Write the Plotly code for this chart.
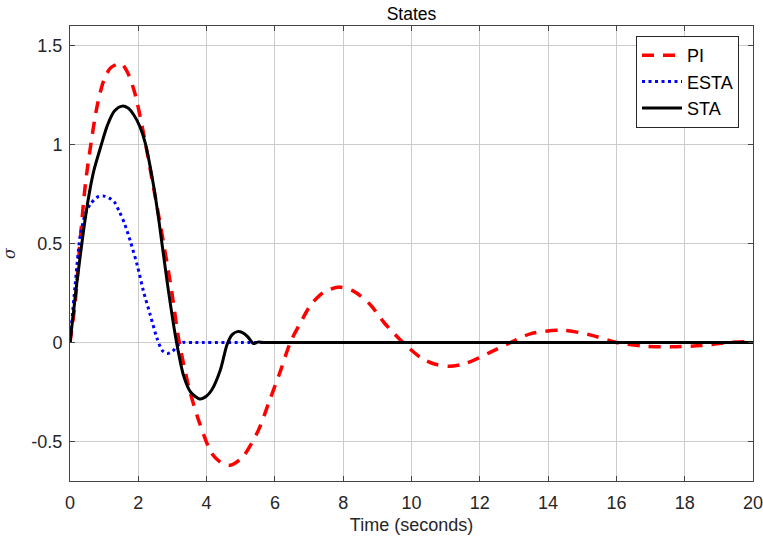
import plotly.graph_objects as go

# ---- data ----
pi_t = [0, 0.15, 0.3, 0.45, 0.6, 0.8, 1.0, 1.2, 1.5, 1.7, 1.9, 2.15, 2.45, 2.65, 2.95, 3.2,
        3.5, 3.8, 4.15, 4.45, 4.7, 5.05, 5.5, 5.85, 6.15, 6.45, 6.75, 7.05, 7.4, 7.85, 8.3,
        8.8, 9.2, 9.75, 10.3, 10.7, 11.1, 11.6, 12.3, 12.9, 13.5, 14.4, 15.2, 16.0, 16.8,
        17.6, 18.5, 19.3, 20]
pi_v = [0, 0.2, 0.52, 0.8, 0.99, 1.2, 1.33, 1.39, 1.41, 1.36, 1.26, 1.06, 0.78, 0.59, 0.29, 0.0,
        -0.24, -0.41, -0.56, -0.61, -0.62, -0.58, -0.45, -0.29, -0.15, 0.0, 0.1, 0.19, 0.25, 0.28, 0.26,
        0.19, 0.1, 0.0, -0.08, -0.11, -0.12, -0.105, -0.05, 0.0, 0.045, 0.062, 0.04, 0.0, -0.018,
        -0.022, -0.015, 0.0, 0.005]

esta_t = [0, 0.15, 0.3, 0.45, 0.6, 0.8, 1.0, 1.15, 1.3, 1.45, 1.6, 1.77, 1.97, 2.15, 2.35, 2.55,
          2.7, 2.85, 3.0, 3.15, 3.3, 3.6, 5, 10, 15, 20]
esta_v = [0, 0.29, 0.54, 0.65, 0.7, 0.735, 0.74, 0.73, 0.71, 0.66, 0.6, 0.51, 0.39, 0.26, 0.14, 0.02,
          -0.04, -0.055, -0.045, -0.015, 0.0, 0.0, 0, 0, 0, 0]

sta_t = [0, 0.2, 0.4, 0.55, 0.7, 0.9, 1.1, 1.3, 1.53, 1.7, 1.87, 2.05, 2.2, 2.45, 2.6, 2.85, 3.1,
         3.33, 3.53, 3.8, 4.0, 4.15, 4.4, 4.6, 4.75, 4.9, 5.05, 5.2, 5.37, 5.5, 5.7, 7, 10, 15, 20]
sta_v = [0, 0.3, 0.57, 0.74, 0.87, 0.99, 1.1, 1.17, 1.195, 1.185, 1.15, 1.09, 1.01, 0.79, 0.62, 0.3, 0.02,
         -0.17, -0.25, -0.285, -0.27, -0.24, -0.14, -0.01, 0.04, 0.055, 0.05, 0.03, -0.005, 0.002, 0, 0, 0, 0, 0]

x_ticks = [0, 2, 4, 6, 8, 10, 12, 14, 16, 18, 20]
y_ticks = [-0.5, 0, 0.5, 1, 1.5]
y_tick_text = ["-0.5", "0", "0.5", "1", "1.5"]

FONT = "Liberation Sans, Arial, sans-serif"

fig = go.Figure()
fig.add_trace(go.Scatter(x=pi_t, y=pi_v, name="PI", mode="lines",
                         line=dict(color="#ff0000", width=3.5, dash="12px,9px", shape="spline", smoothing=0.8)))
fig.add_trace(go.Scatter(x=esta_t, y=esta_v, name="ESTA", mode="lines",
                         line=dict(color="#0000ff", width=3, dash="3px,3.5px", shape="spline", smoothing=0.8)))
fig.add_trace(go.Scatter(x=sta_t, y=sta_v, name="STA", mode="lines",
                         line=dict(color="#000000", width=3, shape="spline", smoothing=0.8)))

axis_common = dict(showgrid=True, gridcolor="#cccccc", gridwidth=1, zeroline=False,
                   showline=True, linecolor="#444444", linewidth=1, mirror="ticks",
                   ticks="inside", ticklen=5, tickcolor="#444444", automargin=False,
                   ticklabeloverflow="allow",
                   tickfont=dict(family=FONT, size=18, color="#262626"))

fig.update_layout(
    width=763, height=538,
    margin=dict(l=69.5, r=10, t=26, b=57),
    paper_bgcolor="white", plot_bgcolor="white",
    title=dict(text="States", x=0.5, xref="paper", xanchor="center", y=1, yref="paper",
               yanchor="bottom", pad=dict(b=6), font=dict(family=FONT, size=17.5, color="#000000")),
    xaxis=dict(range=[0, 20], tickvals=x_ticks, ticklabelstandoff=5,
               title=dict(text="Time (seconds)", standoff=6,
                          font=dict(family=FONT, size=18, color="#262626")), **axis_common),
    yaxis=dict(range=[-0.7, 1.6], tickvals=y_ticks, ticktext=y_tick_text, ticklabelstandoff=3,
               title=dict(text="<i>σ</i>", standoff=17, font=dict(family="DejaVu Serif, serif", size=16, color="#262626")),
               **axis_common),
    legend=dict(x=0.9795, y=0.978, xanchor="right", yanchor="top", bgcolor="white",
                bordercolor="#262626", borderwidth=1, font=dict(family=FONT, size=18, color="#000000"),
                tracegroupgap=0, itemwidth=40),
    showlegend=True,
)

fig.write_html("out.html")
